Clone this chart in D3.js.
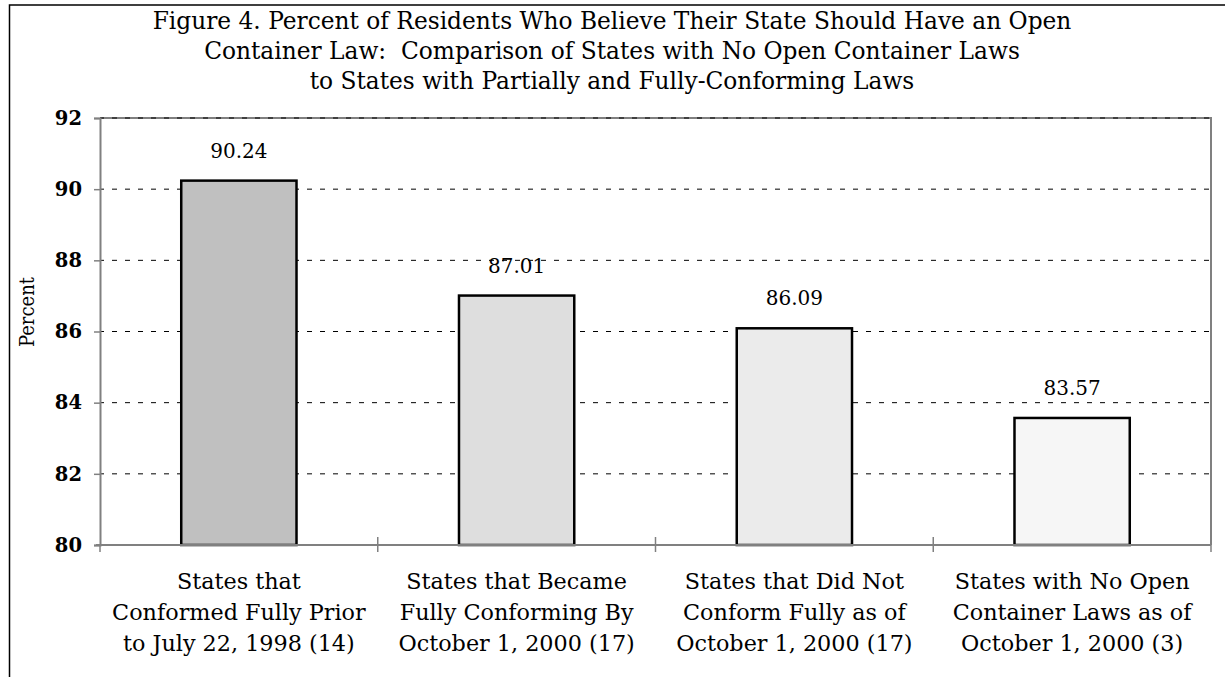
<!DOCTYPE html>
<html>
<head>
<meta charset="utf-8">
<script src="https://cdn.jsdelivr.net/npm/d3@7"></script>
<style>
  body { margin: 0; background: #fff; }
  svg { display: block; }
</style>
</head>
<body>
<svg id="chart" width="1225" height="677"></svg>
<script>
var titleLines = ["Figure 4. Percent of Residents Who Believe Their State Should Have an Open",
                  "Container Law:  Comparison of States with No Open Container Laws",
                  "to States with Partially and Fully-Conforming Laws"];
var categories = [["States that", "Conformed Fully Prior", "to July 22, 1998 (14)"],
                  ["States that Became", "Fully Conforming By", "October 1, 2000 (17)"],
                  ["States that Did Not", "Conform Fully as of", "October 1, 2000 (17)"],
                  ["States with No Open", "Container Laws as of", "October 1, 2000 (3)"]];
var values = [90.24, 87.01, 86.09, 83.57];
var fills = ["#c0c0c0", "#dedede", "#ebebeb", "#f6f6f6"];
var yTicks = [80, 82, 84, 86, 88, 90, 92];

var svg = d3.select("#chart");
var plotL = 100, plotR = 1211, plotT = 118, plotB = 545;
var serif = "'DejaVu Serif', serif";

// outer frame
svg.append("rect").attr("x", 9.5).attr("y", 5).attr("width", 1230).attr("height", 700)
    .attr("fill", "none").attr("stroke", "#000").attr("stroke-width", 1.5);

var ids = d3.range(categories.length);
var cell = d3.scaleBand().domain(ids).range([plotL, plotR]);
var x = d3.scaleBand().domain(ids).range([plotL, plotR]).paddingInner(0.585).paddingOuter(0.2925);
var y = d3.scaleLinear().domain([80, 92]).range([plotB, plotT]);

// title
svg.append("g").selectAll("text").data(titleLines).enter().append("text")
    .attr("x", 612).attr("y", function(d, i) { return 29 + i * 30; })
    .attr("text-anchor", "middle")
    .attr("font-family", serif).attr("font-size", 23.3)
    .style("white-space", "pre")
    .text(function(d) { return d; });

// plot frame (top & right)
svg.append("path").attr("d", "M" + plotL + "," + plotT + "H" + plotR + "V" + plotB)
    .attr("fill", "none").attr("stroke", "#808080").attr("stroke-width", 2);

// gridlines
svg.append("g").selectAll("line").data(yTicks.slice(1)).enter().append("line")
    .attr("x1", plotL).attr("x2", plotR)
    .attr("y1", function(d) { return y(d); }).attr("y2", function(d) { return y(d); })
    .attr("stroke", "#000").attr("stroke-width", 1).attr("stroke-dasharray", "5,8")
    .attr("stroke-dashoffset", -12);

// bars
svg.append("g").selectAll("rect").data(values).enter().append("rect")
    .attr("x", function(d, i) { return x(i); })
    .attr("y", function(d) { return y(d); })
    .attr("width", x.bandwidth())
    .attr("height", function(d) { return y(80) - y(d); })
    .attr("fill", function(d, i) { return fills[i]; })
    .attr("stroke", "#000").attr("stroke-width", 2.5);

// value labels
svg.append("g").selectAll("text").data(values).enter().append("text")
    .attr("x", function(d, i) { return x(i) + x.bandwidth() / 2; })
    .attr("y", function(d) { return y(d) - 23; })
    .attr("text-anchor", "middle")
    .attr("font-family", serif).attr("font-size", 20)
    .text(function(d) { return d.toFixed(2); });

// y axis
var yAxis = svg.append("g").attr("transform", "translate(" + plotL + ",0)")
    .call(d3.axisLeft(y).tickValues(yTicks).tickSize(6).tickPadding(12));
yAxis.select(".domain").attr("stroke", "#808080").attr("stroke-width", 2);
yAxis.selectAll(".tick line").attr("stroke", "#808080").attr("stroke-width", 1.5);
yAxis.selectAll(".tick text").attr("font-family", serif).attr("font-size", 19.5)
    .attr("font-weight", "bold").attr("fill", "#000");

// x axis baseline and category ticks
var xAxis = svg.append("g").attr("transform", "translate(0," + plotB + ")");
xAxis.append("line").attr("x1", plotL - 4).attr("x2", plotR).attr("stroke", "#808080").attr("stroke-width", 2);
xAxis.selectAll(".ct").data(ids.concat([ids.length])).enter().append("line")
    .attr("class", "ct")
    .attr("x1", function(d) { return d < ids.length ? cell(d) : plotR; })
    .attr("x2", function(d) { return d < ids.length ? cell(d) : plotR; })
    .attr("y1", function(d) { return d == 0 ? 0 : -8; }).attr("y2", 7)
    .attr("stroke", "#808080").attr("stroke-width", 1.5);

// category labels
var lab = svg.append("g").selectAll("text").data(categories).enter().append("text")
    .attr("text-anchor", "middle")
    .attr("font-family", serif).attr("font-size", 22.3);
lab.selectAll("tspan").data(function(d, i) { return d.map(function(s) { return {s: s, i: i}; }); })
    .enter().append("tspan")
    .attr("x", function(d) { return cell(d.i) + cell.bandwidth() / 2; })
    .attr("y", function(d, j) { return 589 + j * 31; })
    .text(function(d) { return d.s; });

// y title
svg.append("text").attr("transform", "translate(34,312) rotate(-90)")
    .attr("text-anchor", "middle")
    .attr("font-family", serif).attr("font-size", 20).attr("font-stretch", "condensed")
    .text("Percent");
</script>
</body>
</html>
